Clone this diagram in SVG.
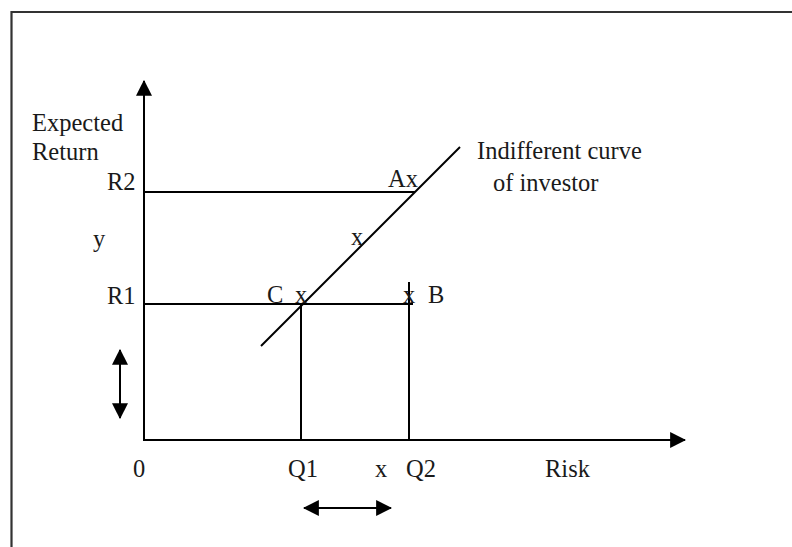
<svg xmlns="http://www.w3.org/2000/svg" width="792" height="547" viewBox="0 0 792 547">
<style>
text{font-family:"Liberation Serif","Times New Roman",serif;font-size:24.5px;fill:#1a1a1a}
.ln{stroke:#000;stroke-width:2;fill:none}
.frame{stroke:#333;stroke-width:2.2;fill:none}
</style>
<defs>
<marker id="ah" markerUnits="userSpaceOnUse" markerWidth="16" markerHeight="16" viewBox="0 0 14 14" refX="13" refY="7" orient="auto-start-reverse">
<path d="M0,0 L14,7 L0,14 Z" fill="#000"/>
</marker>
</defs>
<rect width="792" height="547" fill="#fff"/>
<g id="frame">
<path class="frame" d="M11.5,547 V12 H792"/>
</g>
<g id="connectors">
<line class="ln" x1="144" y1="440" x2="144" y2="81" marker-end="url(#ah)"/>
<line class="ln" x1="143" y1="440" x2="685" y2="440" marker-end="url(#ah)"/>
<line class="ln" x1="144" y1="192" x2="415" y2="192"/>
<line class="ln" x1="144" y1="304" x2="413" y2="304"/>
<line class="ln" x1="301" y1="304" x2="301" y2="440"/>
<line class="ln" x1="409" y1="282" x2="409" y2="440"/>
<line class="ln" x1="261" y1="346" x2="460" y2="147"/>
<line class="ln" x1="120" y1="350" x2="120" y2="418" marker-start="url(#ah)" marker-end="url(#ah)"/>
<line class="ln" x1="304" y1="508" x2="391" y2="508" marker-start="url(#ah)" marker-end="url(#ah)"/>
</g>
<g id="labels">
<text x="32" y="131">Expected</text>
<text x="32" y="160">Return</text>
<text x="107" y="190">R2</text>
<text x="93" y="247">y</text>
<text x="107" y="304">R1</text>
<text x="267" y="303">C</text>
<text x="295" y="303">x</text>
<text x="403" y="303">x</text>
<text x="428" y="303">B</text>
<text x="388" y="187">Ax</text>
<text x="351" y="245">x</text>
<text x="477" y="159">Indifferent curve</text>
<text x="493" y="191">of investor</text>
<text x="133" y="477">0</text>
<text x="288" y="477">Q1</text>
<text x="375" y="477">x</text>
<text x="406" y="477">Q2</text>
<text x="545" y="477">Risk</text>
</g>
</svg>
